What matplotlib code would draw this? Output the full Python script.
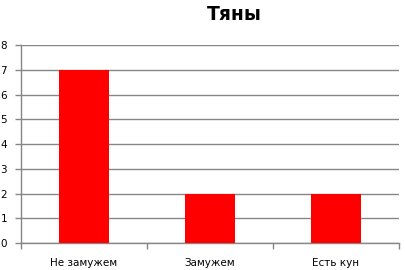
import matplotlib.pyplot as plt
import numpy as np

categories = ['Не замужем', 'Замужем', 'Есть кун']
values = [7, 2, 2]
title = 'Тяны'

grid_col = '#868686'

fig = plt.figure(figsize=(4.06, 2.70), dpi=100)
ax = fig.add_axes([21/406, 1 - 243/270, 378/406, 198/270])

x = np.arange(len(categories))
ax.bar(x, values, width=0.4, color='#ff0000', zorder=3)

ax.set_xlim(-0.5, len(categories) - 0.5)
ax.set_ylim(0, 8)
ax.set_yticks(range(0, 9))
ax.set_xticks(x)
ax.set_xticklabels(categories)
ax.set_xticks(np.arange(-0.5, len(categories)), minor=True)

ax.grid(True, axis='y', color=grid_col, linewidth=1, zorder=0)
for s in ['top', 'right']:
    ax.spines[s].set_visible(False)
for s in ['left', 'bottom']:
    ax.spines[s].set_color(grid_col)
    ax.spines[s].set_linewidth(1)

ax.tick_params(axis='x', which='major', length=0, pad=11, labelsize=7.5)
ax.tick_params(axis='x', which='minor', length=4, color=grid_col, width=1)
ax.tick_params(axis='y', length=4, color=grid_col, width=1, pad=6, labelsize=7.5)

fig.text(234/406, 1 - 15/270, title, ha='center', va='center',
         fontsize=13.5, fontweight='bold')

fig.savefig('out.png', dpi=100)
